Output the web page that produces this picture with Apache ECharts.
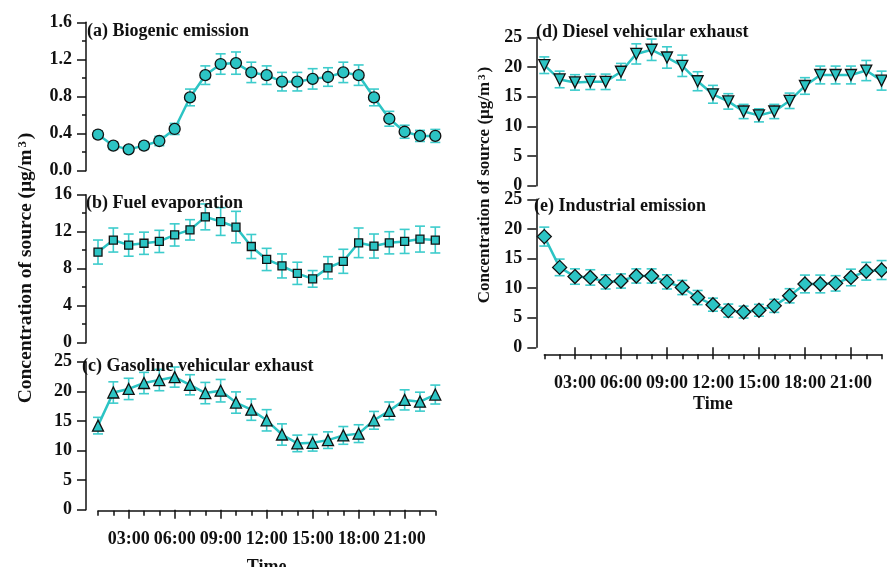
<!DOCTYPE html>
<html lang="en">
<head>
    <meta charset="utf-8">
    <title>Diurnal source concentrations</title>
    <script src="https://cdn.jsdelivr.net/npm/echarts@6.0.0/dist/echarts.min.js"></script>
    <style>
        html, body { margin: 0; padding: 0; background: #fff; }
        #chart { width: 887px; height: 567px; }
    </style>
</head>
<body>
    <div id="chart"></div>

    <script>
    // hours of day, 01:00 .. 23:00
    var hours = [1, 2, 3, 4, 5, 6, 7, 8, 9, 10, 11, 12, 13, 14, 15, 16, 17, 18, 19, 20, 21, 22, 23];
    var majorHours = [3, 6, 9, 12, 15, 18, 21];

    // (a) Biogenic emission
    var biogenic = [0.39, 0.27, 0.23, 0.27, 0.32, 0.45, 0.79, 1.03, 1.15, 1.16, 1.06, 1.03, 0.96, 0.96, 0.99, 1.01, 1.06, 1.03, 0.79, 0.56, 0.42, 0.375, 0.375];
    var biogenicErr = [0.04, 0.04, 0.03, 0.04, 0.05, 0.06, 0.09, 0.10, 0.11, 0.12, 0.11, 0.10, 0.10, 0.10, 0.11, 0.10, 0.11, 0.11, 0.09, 0.08, 0.07, 0.06, 0.07];

    // (b) Fuel evaporation
    var fuel = [9.8, 11.1, 10.55, 10.75, 10.95, 11.65, 12.2, 13.6, 13.1, 12.5, 10.4, 9.0, 8.3, 7.5, 6.9, 8.1, 8.8, 10.8, 10.45, 10.8, 10.95, 11.2, 11.1];
    var fuelErr = [1.3, 1.3, 1.2, 1.2, 1.2, 1.2, 1.1, 1.4, 1.5, 1.7, 1.3, 1.2, 1.3, 1.2, 0.9, 1.2, 1.3, 1.6, 1.3, 1.2, 1.3, 1.4, 1.4];

    // (c) Gasoline vehicular exhaust
    var gasoline = [14.2, 19.8, 20.4, 21.4, 21.9, 22.4, 21.1, 19.7, 20.1, 18.1, 16.9, 15.1, 12.7, 11.2, 11.3, 11.75, 12.55, 12.85, 15.1, 16.7, 18.55, 18.25, 19.45];
    var gasolineErr = [1.4, 1.8, 1.8, 1.8, 1.8, 1.7, 1.7, 1.8, 1.9, 1.8, 1.8, 1.8, 1.8, 1.4, 1.4, 1.4, 1.5, 1.5, 1.5, 1.5, 1.7, 1.6, 1.6];

    // (d) Diesel vehicular exhaust
    var diesel = [20.3, 17.9, 17.4, 17.5, 17.5, 19.2, 22.2, 22.9, 21.6, 20.2, 17.6, 15.4, 14.2, 12.5, 11.85, 12.5, 14.3, 16.8, 18.65, 18.65, 18.65, 19.4, 17.7];
    var dieselErr = [1.4, 1.4, 1.3, 1.3, 1.3, 1.4, 1.7, 1.8, 1.8, 1.8, 1.6, 1.5, 1.3, 1.2, 1.1, 1.2, 1.3, 1.4, 1.5, 1.5, 1.5, 1.7, 1.6];

    // (e) Industrial emission
    var industrial = [18.7, 13.5, 11.95, 11.8, 11.05, 11.2, 12.05, 12.05, 11.05, 10.1, 8.4, 7.2, 6.2, 5.95, 6.25, 7.0, 8.7, 10.7, 10.7, 10.8, 11.8, 12.85, 13.05];
    var industrialErr = [1.6, 1.4, 1.3, 1.3, 1.2, 1.2, 1.2, 1.2, 1.2, 1.2, 1.2, 1.1, 1.1, 1.0, 1.0, 1.1, 1.2, 1.5, 1.5, 1.3, 1.4, 1.5, 1.6];

    var titles = ['(a) Biogenic emission', '(b) Fuel evaporation', '(c) Gasoline vehicular exhaust',
                  '(d) Diesel vehicular exhaust', '(e) Industrial emission'];
    var yMax = [1.6, 16, 25, 25, 25];
    var yStep = [0.4, 4, 5, 5, 5];

    var teal = '#2cc4c4';
    var errColor = '#3dcccc';
    var font = 'Liberation Serif';

    var chart = echarts.init(document.getElementById('chart'));

    function pairs(vals) {
        return hours.map(function (h, i) { return [h, vals[i]]; });
    }
    function errPairs(vals, errs) {
        return hours.map(function (h, i) { return [h, vals[i] - errs[i], vals[i] + errs[i]]; });
    }

    function renderErr(params, api) {
        var top = api.coord([api.value(0), api.value(2)]);
        var bot = api.coord([api.value(0), api.value(1)]);
        var hw = 5;
        var st = { stroke: errColor, lineWidth: 1.6 };
        return {
            type: 'group',
            children: [
                { type: 'line', shape: { x1: top[0], y1: top[1], x2: bot[0], y2: bot[1] }, style: st },
                { type: 'line', shape: { x1: top[0] - hw, y1: top[1], x2: top[0] + hw, y2: top[1] }, style: st },
                { type: 'line', shape: { x1: bot[0] - hw, y1: bot[1], x2: bot[0] + hw, y2: bot[1] }, style: st }
            ]
        };
    }

    var grids = [
        { left: 98, top: 22.3, width: 337.3, height: 148.4 },
        { left: 98, top: 194.7, width: 337.3, height: 148 },
        { left: 98, top: 361.7, width: 337.3, height: 148 },
        { left: 544.3, top: 37.3, width: 337.3, height: 148.4 },
        { left: 544.3, top: 199.3, width: 337.3, height: 148 }
    ];
    grids.forEach(function (g) { g.outerBoundsMode = 'none'; g.containLabel = false; });

    var labelStyle = { fontFamily: font, fontWeight: 'bold', fontSize: 18, color: '#111' };
    var axisLineStyle = { color: '#111', width: 1.5 };

    var xAxes = [];
    var yAxes = [];
    for (var i = 0; i < 5; i++) {
        var bottomAxis = (i === 2 || i === 4);
        xAxes.push({
            type: 'value', gridIndex: i, min: 1, max: 23,
            show: bottomAxis,
            position: 'bottom',
            offset: i === 2 ? 1 : 7,
            splitLine: { show: false },
            axisLine: { show: true, onZero: false, lineStyle: axisLineStyle },
            axisTick: { show: true, customValues: hours, length: 5, lineStyle: axisLineStyle },
            axisLabel: { show: false }
        });
        yAxes.push({
            type: 'value', gridIndex: i, min: 0, max: yMax[i], interval: yStep[i],
            offset: i < 3 ? 12 : 8,
            splitLine: { show: false },
            axisLine: { show: true, lineStyle: axisLineStyle },
            axisTick: { show: true, length: 9, lineStyle: axisLineStyle },
            minorTick: { show: i < 2, splitNumber: 2, length: 4, lineStyle: axisLineStyle },
            axisLabel: Object.assign({
                margin: 14,
                formatter: i === 0 ? function (v) { return v.toFixed(1); } : '{value}'
            }, labelStyle)
        });
    }
    // major hour ticks with labels for the bottom panels
    [2, 4].forEach(function (g) {
        xAxes.push({
            type: 'value', gridIndex: g, min: 1, max: 23,
            position: 'bottom',
            offset: g === 2 ? 1 : 7,
            splitLine: { show: false },
            axisLine: { show: false },
            axisTick: { show: true, customValues: majorHours, length: 9, lineStyle: axisLineStyle },
            axisLabel: Object.assign({
                customValues: majorHours,
                margin: 20,
                formatter: function (v) { return (v < 10 ? '0' : '') + v + ':00'; }
            }, labelStyle),
            name: 'Time',
            nameLocation: 'middle',
            nameGap: g === 2 ? 48 : 41,
            nameTextStyle: labelStyle
        });
    });

    var sets = [
        { vals: biogenic, errs: biogenicErr, symbol: 'circle', size: 11, rotate: 0 },
        { vals: fuel, errs: fuelErr, symbol: 'rect', size: 8, rotate: 0 },
        { vals: gasoline, errs: gasolineErr, symbol: 'triangle', size: 11, rotate: 0 },
        { vals: diesel, errs: dieselErr, symbol: 'triangle', size: 11, rotate: 180 },
        { vals: industrial, errs: industrialErr, symbol: 'diamond', size: 14, rotate: 0 }
    ];

    var series = [];
    sets.forEach(function (s, i) {
        series.push({
            type: 'custom', xAxisIndex: i, yAxisIndex: i,
            renderItem: renderErr,
            data: errPairs(s.vals, s.errs),
            z: 2,
            clip: false
        });
        series.push({
            type: 'line', xAxisIndex: i, yAxisIndex: i,
            data: pairs(s.vals),
            symbol: s.symbol, symbolSize: s.size, symbolRotate: s.rotate,
            showAllSymbol: true,
            lineStyle: { color: teal, width: 2.5 },
            itemStyle: { color: teal, borderColor: '#111', borderWidth: 1.3 },
            z: 3,
            clip: false,
            animation: false
        });
    });

    var titlePos = [[87, 22], [86, 194], [82, 357.5], [536, 23.5], [534, 197.5]];
    var title = titles.map(function (t, i) {
        return {
            text: t, left: titlePos[i][0], top: titlePos[i][1], padding: 0,
            textStyle: { fontFamily: font, fontWeight: 'bold', fontSize: 18, color: '#111' }
        };
    });

    function yName(x, y, size) {
        return {
            type: 'text', x: x, y: y, rotation: Math.PI / 2,
            style: {
                text: '{t|Concentration of source (μg/m}{s|3}{t|)}',
                align: 'center', verticalAlign: 'middle',
                fill: '#111',
                rich: {
                    t: { fontFamily: font, fontWeight: 'bold', fontSize: size, fill: '#111' },
                    s: { fontFamily: font, fontWeight: 'bold', fontSize: size * 0.65, fill: '#111', verticalAlign: 'top', padding: [0, 2, 0, 2] }
                }
            }
        };
    }

    chart.setOption({
        animation: false,
        title: title,
        grid: grids,
        xAxis: xAxes,
        yAxis: yAxes,
        series: series,
        graphic: [yName(26, 268, 19.5), yName(485, 185, 17)]
    });
    </script>
</body>
</html>
